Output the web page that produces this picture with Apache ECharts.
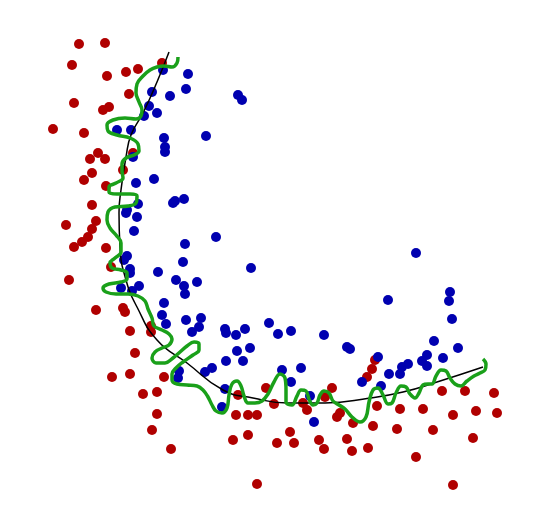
<!DOCTYPE html>
<html><head><meta charset="utf-8">
<script src="https://cdn.jsdelivr.net/npm/echarts@6/dist/echarts.min.js"></script>
<style>html,body{margin:0;padding:0;background:#fff}#c{width:540px;height:529px}</style>
</head><body><div id="c"></div>
<script>
const redPoints = [[79,44],[105,43],[72,65],[107,76],[126,72],[138,69],[162,63],[129,94],[74,103],[103,110],[109,107],[53,129],[84,133],[98,153],[90,159],[105,159],[133,153],[123,170],[92,173],[84,180],[106,186],[92,205],[66,225],[96,221],[92,229],[88,237],[82,242],[74,247],[106,248],[111,267],[69,280],[96,310],[123,308],[125,312],[130,331],[151,326],[151,332],[135,353],[112,377],[130,374],[164,377],[143,394],[157,392],[157,414],[152,430],[171,449],[238,395],[236,415],[248,415],[257,415],[233,440],[248,435],[257,484],[266,388],[274,404],[303,403],[307,410],[332,388],[325,397],[340,413],[337,417],[353,423],[367,377],[372,369],[375,360],[377,406],[373,426],[290,432],[277,443],[294,443],[319,440],[324,449],[347,439],[352,451],[368,448],[400,409],[423,409],[442,391],[465,391],[494,393],[453,415],[476,411],[497,413],[397,429],[433,430],[473,438],[416,457],[453,485]];
const bluePoints = [[163,70],[188,74],[186,89],[152,92],[170,96],[149,106],[157,113],[144,116],[117,130],[131,130],[164,138],[165,147],[165,152],[133,157],[136,183],[154,179],[206,136],[238,95],[242,100],[138,204],[173,203],[175,201],[184,199],[126,213],[127,210],[137,217],[134,231],[185,244],[127,256],[124,260],[183,262],[130,269],[130,273],[158,272],[176,280],[197,282],[184,286],[185,294],[121,288],[139,286],[132,291],[164,303],[162,315],[166,324],[186,320],[201,318],[199,327],[192,332],[216,237],[251,268],[225,329],[226,333],[236,335],[245,329],[269,323],[278,334],[291,331],[324,335],[416,253],[388,300],[450,292],[449,301],[452,319],[434,341],[250,348],[237,351],[226,361],[243,361],[212,368],[205,372],[179,371],[178,378],[225,389],[222,407],[282,370],[301,368],[291,382],[310,396],[314,422],[362,382],[347,347],[350,349],[378,357],[389,374],[400,374],[402,367],[408,364],[422,361],[427,355],[427,366],[443,358],[458,348],[381,386]];
const smoothBoundary = [[169,52],[157,82],[143,113],[131,135],[126,157],[121,190],[119,213],[120,247],[126,280],[137,307],[157,340],[187,363],[223,390],[253,398],[288,403],[325,403],[370,398],[403,392],[437,382],[483,367]];
const overfitBoundary = [[178,57],[177,63],[172,67],[164,66],[157,67],[150,70],[143,76],[137,84],[136,93],[139,102],[142,110],[141,116],[136,119],[125,118],[113,120],[107,125],[108,131],[117,135],[130,138],[138,144],[139,151],[134,155],[126,158],[122,164],[122,171],[123,178],[116,183],[109,187],[109,192],[117,194],[130,194],[137,196],[136,203],[128,206],[115,207],[108,212],[107,220],[110,228],[116,235],[121,243],[121,252],[115,258],[110,263],[112,268],[121,270],[127,273],[127,279],[121,282],[109,284],[103,288],[106,292],[116,294],[128,294],[138,296],[145,301],[148,309],[152,318],[154,326],[162,330],[169,334],[172,339],[169,345],[162,348],[155,352],[152,358],[156,363],[165,363],[173,358],[180,352],[187,346],[194,342],[199,344],[199,350],[193,355],[183,362],[176,368],[172,374],[172,380],[177,384],[187,385],[197,386],[203,390],[208,397],[212,405],[216,411],[222,413],[227,408],[229,395],[232,384],[237,381],[241,386],[244,396],[248,403],[255,403],[262,401],[268,394],[274,382],[280,374],[285,378],[286,390],[286,402],[292,405],[297,396],[301,390],[306,391],[309,399],[313,405],[317,403],[320,395],[324,391],[329,393],[333,401],[339,405],[345,409],[352,417],[360,422],[366,417],[369,402],[373,390],[378,388],[383,395],[388,404],[392,403],[396,393],[401,386],[406,387],[410,394],[415,398],[419,393],[423,385],[428,384],[432,384],[436,376],[441,370],[446,371],[450,378],[455,384],[461,386],[467,381],[474,376],[480,373],[485,370],[486,364],[483,359]];

const chart = echarts.init(document.getElementById('c'), null, {renderer:'canvas'});
chart.setOption({
  animation:false,
  backgroundColor:'#fff',
  grid:{left:0,right:0,top:0,bottom:0},
  xAxis:{type:'value',min:0,max:540,show:false},
  yAxis:{type:'value',min:0,max:529,inverse:true,show:false},
  series:[
    {type:'scatter',data:redPoints,symbolSize:10,itemStyle:{color:'#b00000',opacity:1},z:2},
    {type:'scatter',data:bluePoints,symbolSize:10,itemStyle:{color:'#0000b0',opacity:1},z:2},
    {type:'line',data:smoothBoundary,smooth:0.5,showSymbol:false,lineStyle:{color:'#000',width:1.5},z:3},
    {type:'line',data:overfitBoundary,smooth:0.4,showSymbol:false,lineStyle:{color:'#1aa01a',width:3.5},z:4}
  ]
});
</script></body></html>
